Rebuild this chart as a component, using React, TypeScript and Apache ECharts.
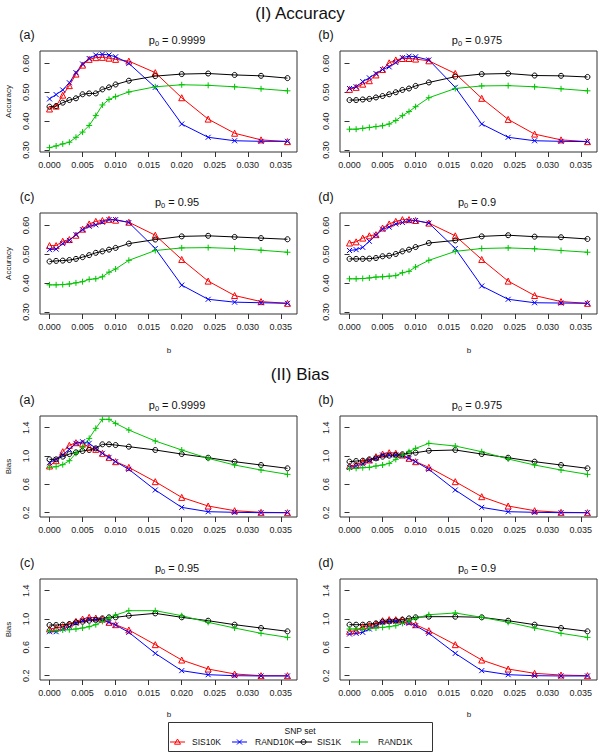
import React, { useEffect, useRef } from 'react';
import * as echarts from 'echarts';

const X = [0, 0.001, 0.002, 0.003, 0.004, 0.005, 0.006, 0.007, 0.008, 0.009, 0.010, 0.012, 0.016, 0.020, 0.024, 0.028, 0.032, 0.036];
const X_TICKS = [0, 0.005, 0.010, 0.015, 0.020, 0.025, 0.030, 0.035];
const ACC_TICKS = [0.3, 0.4, 0.5, 0.6];
const BIAS_TICKS = [0.2, 0.6, 1.0, 1.4];
const P0 = ['0.9999', '0.975', '0.95', '0.9'];
const PANEL_LABELS = ['(a)', '(b)', '(c)', '(d)'];
const SETS = ['SIS10K', 'RAND10K', 'SIS1K', 'RAND1K'];

// (I) Accuracy
const ACC_A_SIS10K = [0.442, 0.452, 0.490, 0.523, 0.563, 0.594, 0.614, 0.620, 0.621, 0.618, 0.614, 0.608, 0.568, 0.481, 0.407, 0.358, 0.335, 0.329];
const ACC_A_RAND10K = [0.477, 0.492, 0.508, 0.533, 0.568, 0.598, 0.617, 0.629, 0.632, 0.629, 0.623, 0.600, 0.517, 0.390, 0.344, 0.332, 0.330, 0.330];
const ACC_A_SIS1K = [0.450, 0.452, 0.464, 0.473, 0.479, 0.493, 0.496, 0.496, 0.510, 0.517, 0.527, 0.540, 0.556, 0.563, 0.565, 0.560, 0.557, 0.549];
const ACC_A_RAND1K = [0.308, 0.314, 0.321, 0.327, 0.344, 0.362, 0.385, 0.419, 0.456, 0.475, 0.485, 0.501, 0.519, 0.526, 0.524, 0.519, 0.512, 0.505];

const ACC_B_SIS10K = [0.510, 0.517, 0.528, 0.540, 0.560, 0.579, 0.602, 0.612, 0.617, 0.617, 0.615, 0.609, 0.565, 0.479, 0.406, 0.355, 0.335, 0.329];
const ACC_B_RAND10K = [0.513, 0.519, 0.537, 0.550, 0.565, 0.579, 0.588, 0.603, 0.620, 0.625, 0.623, 0.612, 0.517, 0.390, 0.344, 0.332, 0.330, 0.329];
const ACC_B_SIS1K = [0.473, 0.473, 0.475, 0.477, 0.482, 0.487, 0.493, 0.500, 0.508, 0.513, 0.522, 0.534, 0.554, 0.563, 0.565, 0.558, 0.557, 0.553];
const ACC_B_RAND1K = [0.372, 0.372, 0.375, 0.378, 0.381, 0.384, 0.390, 0.402, 0.419, 0.433, 0.450, 0.481, 0.513, 0.522, 0.523, 0.519, 0.512, 0.505];

const ACC_C_SIS10K = [0.530, 0.530, 0.545, 0.551, 0.566, 0.587, 0.605, 0.614, 0.617, 0.621, 0.618, 0.611, 0.566, 0.482, 0.407, 0.357, 0.336, 0.330];
const ACC_C_RAND10K = [0.516, 0.518, 0.537, 0.548, 0.568, 0.585, 0.597, 0.602, 0.611, 0.620, 0.620, 0.610, 0.520, 0.393, 0.344, 0.334, 0.332, 0.330];
const ACC_C_SIS1K = [0.475, 0.477, 0.478, 0.480, 0.484, 0.490, 0.497, 0.505, 0.510, 0.516, 0.522, 0.537, 0.551, 0.562, 0.564, 0.560, 0.556, 0.552];
const ACC_C_RAND1K = [0.394, 0.394, 0.395, 0.397, 0.401, 0.405, 0.413, 0.415, 0.422, 0.438, 0.449, 0.479, 0.513, 0.522, 0.523, 0.520, 0.514, 0.507];

const ACC_D_SIS10K = [0.539, 0.543, 0.556, 0.564, 0.568, 0.591, 0.605, 0.614, 0.620, 0.620, 0.617, 0.608, 0.564, 0.482, 0.407, 0.357, 0.336, 0.330];
const ACC_D_RAND10K = [0.513, 0.516, 0.524, 0.545, 0.566, 0.587, 0.594, 0.605, 0.610, 0.616, 0.617, 0.608, 0.520, 0.390, 0.344, 0.332, 0.331, 0.330];
const ACC_D_SIS1K = [0.484, 0.484, 0.484, 0.485, 0.487, 0.493, 0.495, 0.501, 0.510, 0.516, 0.525, 0.539, 0.548, 0.562, 0.566, 0.561, 0.559, 0.553];
const ACC_D_RAND1K = [0.415, 0.415, 0.416, 0.418, 0.421, 0.422, 0.424, 0.426, 0.436, 0.441, 0.456, 0.479, 0.510, 0.520, 0.522, 0.519, 0.513, 0.507];

// (II) Bias
const BIAS_A_SIS10K = [0.859, 0.934, 1.061, 1.151, 1.188, 1.179, 1.122, 1.094, 1.038, 0.981, 0.920, 0.840, 0.638, 0.416, 0.294, 0.228, 0.205, 0.200];
const BIAS_A_RAND10K = [0.906, 0.953, 1.014, 1.094, 1.179, 1.202, 1.179, 1.108, 1.038, 0.981, 0.920, 0.812, 0.520, 0.275, 0.214, 0.205, 0.200, 0.200];
const BIAS_A_SIS1K = [0.953, 0.953, 0.991, 1.028, 1.052, 1.071, 1.085, 1.108, 1.165, 1.165, 1.155, 1.132, 1.085, 1.028, 0.976, 0.920, 0.873, 0.826];
const BIAS_A_RAND1K = [0.840, 0.849, 0.878, 0.934, 1.038, 1.122, 1.249, 1.391, 1.518, 1.518, 1.461, 1.367, 1.212, 1.085, 0.967, 0.873, 0.802, 0.741];

const BIAS_B_SIS10K = [0.859, 0.873, 0.920, 0.944, 0.991, 1.028, 1.047, 1.038, 1.014, 0.967, 0.920, 0.840, 0.638, 0.426, 0.294, 0.228, 0.205, 0.200];
const BIAS_B_RAND10K = [0.840, 0.859, 0.887, 0.934, 0.967, 1.014, 1.014, 1.014, 1.000, 0.967, 0.920, 0.812, 0.520, 0.275, 0.214, 0.205, 0.200, 0.200];
const BIAS_B_SIS1K = [0.920, 0.929, 0.934, 0.953, 0.967, 0.991, 1.005, 1.014, 1.024, 1.038, 1.047, 1.075, 1.085, 1.028, 0.976, 0.920, 0.873, 0.826];
const BIAS_B_RAND1K = [0.826, 0.826, 0.835, 0.840, 0.859, 0.873, 0.896, 0.953, 1.014, 1.061, 1.108, 1.179, 1.141, 1.061, 0.958, 0.873, 0.802, 0.741];

const BIAS_C_SIS10K = [0.859, 0.873, 0.892, 0.929, 0.967, 1.000, 1.024, 1.014, 1.000, 0.953, 0.920, 0.845, 0.638, 0.421, 0.294, 0.224, 0.200, 0.200];
const BIAS_C_RAND10K = [0.821, 0.821, 0.859, 0.892, 0.939, 0.976, 0.991, 0.991, 0.986, 0.953, 0.915, 0.812, 0.515, 0.271, 0.214, 0.200, 0.196, 0.196];
const BIAS_C_SIS1K = [0.915, 0.915, 0.920, 0.929, 0.953, 0.962, 0.976, 0.986, 1.009, 1.024, 1.024, 1.047, 1.080, 1.024, 0.976, 0.920, 0.873, 0.826];
const BIAS_C_RAND1K = [0.835, 0.835, 0.845, 0.849, 0.859, 0.873, 0.892, 0.920, 0.967, 1.014, 1.056, 1.118, 1.118, 1.047, 0.953, 0.873, 0.798, 0.741];

const BIAS_D_SIS10K = [0.826, 0.835, 0.892, 0.906, 0.929, 0.976, 0.991, 0.991, 0.991, 0.967, 0.920, 0.835, 0.638, 0.421, 0.294, 0.233, 0.209, 0.200];
const BIAS_D_RAND10K = [0.788, 0.798, 0.812, 0.859, 0.906, 0.953, 0.967, 0.967, 0.953, 0.939, 0.906, 0.798, 0.515, 0.271, 0.214, 0.200, 0.196, 0.196];
const BIAS_D_SIS1K = [0.920, 0.920, 0.920, 0.929, 0.939, 0.962, 0.967, 0.976, 0.991, 1.009, 1.024, 1.033, 1.033, 1.024, 0.976, 0.920, 0.873, 0.826];
const BIAS_D_RAND1K = [0.859, 0.859, 0.859, 0.868, 0.873, 0.882, 0.892, 0.906, 0.939, 0.976, 1.009, 1.061, 1.085, 1.024, 0.953, 0.873, 0.798, 0.741];

const ACC_PANELS = [
  [ACC_A_SIS10K, ACC_A_RAND10K, ACC_A_SIS1K, ACC_A_RAND1K],
  [ACC_B_SIS10K, ACC_B_RAND10K, ACC_B_SIS1K, ACC_B_RAND1K],
  [ACC_C_SIS10K, ACC_C_RAND10K, ACC_C_SIS1K, ACC_C_RAND1K],
  [ACC_D_SIS10K, ACC_D_RAND10K, ACC_D_SIS1K, ACC_D_RAND1K],
];
const BIAS_PANELS = [
  [BIAS_A_SIS10K, BIAS_A_RAND10K, BIAS_A_SIS1K, BIAS_A_RAND1K],
  [BIAS_B_SIS10K, BIAS_B_RAND10K, BIAS_B_SIS1K, BIAS_B_RAND1K],
  [BIAS_C_SIS10K, BIAS_C_RAND10K, BIAS_C_SIS1K, BIAS_C_RAND1K],
  [BIAS_D_SIS10K, BIAS_D_RAND10K, BIAS_D_SIS1K, BIAS_D_RAND1K],
];

const FONT = '"Liberation Sans", Arial, Helvetica, sans-serif';
const COLORS = ['#ff0000', '#0000ff', '#000000', '#00c400'];
const SYMBOLS = ['triangle', 'path://M0,0L10,10M0,10L10,0', 'circle', 'path://M5,0L5,10M0,5L10,5'];
const SYM_SIZE = [6, 5, 5, 6];

const GRID_W = 257;
const GRID_H = 101;
const COL_LEFT = [40, 340];
const ACC_TOP = [51, 213];
const BIAS_TOP = [416, 579];

export default function App() {
  const ref = useRef<HTMLDivElement>(null);

  useEffect(() => {
    document.body.style.margin = '0';
    if (!ref.current) return;
    const chart = echarts.init(ref.current, undefined, { renderer: 'svg' });

    const grids: any[] = [];
    const xAxes: any[] = [];
    const yAxes: any[] = [];
    const series: any[] = [];
    const graphics: any[] = [];

    const addPanel = (left: number, top: number, data: number[][], isAcc: boolean, idx: number) => {
      const gi = grids.length;
      grids.push({
        left, top, width: GRID_W, height: GRID_H,
        show: true, borderColor: '#333', borderWidth: 1, backgroundColor: 'transparent',
      });
      xAxes.push({
        type: 'value', gridIndex: gi, min: -0.00144, max: 0.03744,
        axisLine: { show: false },
        splitLine: { show: false },
        axisTick: { show: true, length: 5, customValues: X_TICKS, lineStyle: { color: '#333' } },
        axisLabel: {
          customValues: X_TICKS, fontSize: 9, fontFamily: FONT, color: '#222', margin: 8,
          formatter: (v: number) => v.toFixed(3),
        },
      });
      const ticks = isAcc ? ACC_TICKS : BIAS_TICKS;
      yAxes.push({
        type: 'value', gridIndex: gi,
        min: isAcc ? 0.293 : 0.139, max: isAcc ? 0.643 : 1.565,
        axisLine: { show: false },
        splitLine: { show: false },
        axisTick: { show: true, length: 5, customValues: ticks, lineStyle: { color: '#333' } },
        axisLabel: {
          customValues: ticks, fontSize: 9, fontFamily: FONT, color: '#222', margin: 10, rotate: 90,
          formatter: (v: number) => v.toFixed(isAcc ? 2 : 1),
        },
      });
      data.forEach((vals, s) => {
        series.push({
          type: 'line', name: SETS[s], xAxisIndex: gi, yAxisIndex: gi,
          data: X.map((x, j) => [x, vals[j]]),
          symbol: SYMBOLS[s], symbolSize: SYM_SIZE[s], showSymbol: true,
          lineStyle: { color: COLORS[s], width: 1 },
          itemStyle: { color: 'rgba(0,0,0,0)', borderColor: COLORS[s], borderWidth: 1 },
          emphasis: { disabled: true },
          silent: true,
        });
      });
      const col = idx % 2;
      graphics.push({
        type: 'text', x: col === 0 ? 27 : 326, y: top - 16,
        style: { text: PANEL_LABELS[idx], fontSize: 12.5, fontFamily: FONT, fill: '#111', align: 'center', verticalAlign: 'middle' },
      });
      graphics.push({
        type: 'text', x: col === 0 ? 177 : 477, y: top - 11,
        style: {
          text: `{p|p}{s|0}{t| = ${P0[idx]}}`,
          align: 'center', verticalAlign: 'middle', fill: '#111',
          rich: {
            p: { fontSize: 11, fontFamily: FONT, fill: '#111', lineHeight: 14 },
            s: { fontSize: 7.5, fontFamily: FONT, fill: '#111', lineHeight: 8, verticalAlign: 'bottom' },
            t: { fontSize: 11, fontFamily: FONT, fill: '#111', lineHeight: 14 },
          },
        },
      });
      if (col === 0) {
        graphics.push({
          type: 'text', x: 8, y: top + GRID_H / 2, rotation: Math.PI / 2,
          style: { text: isAcc ? 'Accuracy' : 'Bias', fontSize: 8, fontFamily: FONT, fill: '#222', align: 'center', verticalAlign: 'middle' },
        });
      }
    };

    ACC_PANELS.forEach((d, i) => addPanel(COL_LEFT[i % 2], ACC_TOP[Math.floor(i / 2)], d, true, i));
    BIAS_PANELS.forEach((d, i) => addPanel(COL_LEFT[i % 2], BIAS_TOP[Math.floor(i / 2)], d, false, i));

    graphics.push({ type: 'text', x: 300, y: 13, style: { text: '(I) Accuracy', fontSize: 17, fontFamily: FONT, fill: '#111', align: 'center', verticalAlign: 'middle' } });
    graphics.push({ type: 'text', x: 300, y: 374, style: { text: '(II) Bias', fontSize: 17, fontFamily: FONT, fill: '#111', align: 'center', verticalAlign: 'middle' } });
    [[169, 350], [469, 350], [169, 714], [469, 714]].forEach(([x, y]) => {
      graphics.push({ type: 'text', x, y, style: { text: 'b', fontSize: 8, fontFamily: FONT, fill: '#222', align: 'center', verticalAlign: 'middle' } });
    });

    graphics.push({ type: 'rect', shape: { x: 168.5, y: 722.5, width: 264, height: 29 }, style: { fill: '#fff', stroke: '#333', lineWidth: 1 } });
    graphics.push({ type: 'text', x: 300, y: 731, style: { text: 'SNP set', fontSize: 8.5, fontFamily: FONT, fill: '#111', align: 'center', verticalAlign: 'middle' } });
    const LEG = [
      { x0: 170, x1: 185, tx: 192 },
      { x0: 232, x1: 247, tx: 255 },
      { x0: 295, x1: 312, tx: 317 },
      { x0: 351, x1: 368, tx: 378 },
    ];
    const ly = 742;
    LEG.forEach((l, s) => {
      const c = COLORS[s];
      const cx = (l.x0 + l.x1) / 2;
      graphics.push({ type: 'line', shape: { x1: l.x0, y1: ly, x2: l.x1, y2: ly }, style: { stroke: c, lineWidth: 1 } });
      if (s === 0) {
        graphics.push({ type: 'polygon', shape: { points: [[cx, ly - 3], [cx + 3, ly + 2.2], [cx - 3, ly + 2.2]] }, style: { fill: 'none', stroke: c, lineWidth: 1 } });
      } else if (s === 1) {
        graphics.push({ type: 'line', shape: { x1: cx - 2.5, y1: ly - 2.5, x2: cx + 2.5, y2: ly + 2.5 }, style: { stroke: c, lineWidth: 1 } });
        graphics.push({ type: 'line', shape: { x1: cx - 2.5, y1: ly + 2.5, x2: cx + 2.5, y2: ly - 2.5 }, style: { stroke: c, lineWidth: 1 } });
      } else if (s === 2) {
        graphics.push({ type: 'circle', shape: { cx, cy: ly, r: 2.5 }, style: { fill: 'none', stroke: c, lineWidth: 1 } });
      } else {
        graphics.push({ type: 'line', shape: { x1: cx, y1: ly - 3, x2: cx, y2: ly + 3 }, style: { stroke: c, lineWidth: 1 } });
      }
      graphics.push({ type: 'text', x: l.tx, y: ly, style: { text: SETS[s], fontSize: 8.5, fontFamily: FONT, fill: '#111', align: 'left', verticalAlign: 'middle' } });
    });

    chart.setOption({
      animation: false,
      backgroundColor: '#ffffff',
      grid: grids,
      xAxis: xAxes,
      yAxis: yAxes,
      series,
      graphic: graphics,
    });

    return () => chart.dispose();
  }, []);

  return <div ref={ref} style={{ width: 600, height: 753 }} />;
}
